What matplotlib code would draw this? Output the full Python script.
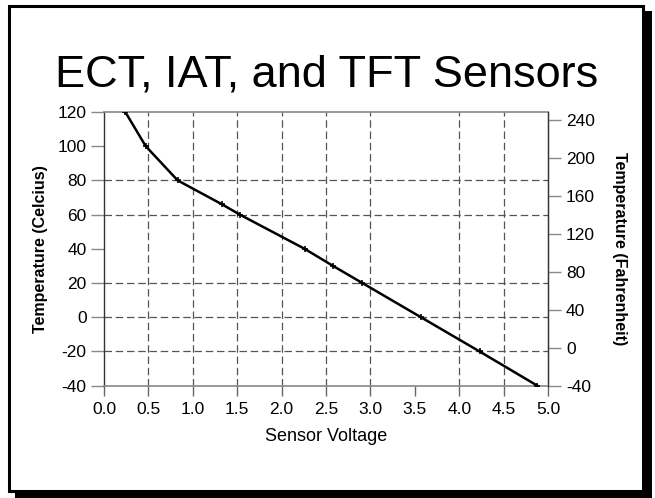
import numpy as np
import matplotlib
matplotlib.use("Agg")
import matplotlib.pyplot as plt
from matplotlib.patches import Rectangle

# sensor curve
voltage = [0.24, 0.47, 0.83, 1.33, 1.53, 2.26, 2.58, 2.91, 3.57, 4.23, 4.88]
temp_c = [120, 100, 80, 66, 60, 40, 30, 20, 0, -20, -40]

x_ticks = [0.0, 0.5, 1.0, 1.5, 2.0, 2.5, 3.0, 3.5, 4.0, 4.5, 5.0]
c_ticks = [-40, -20, 0, 20, 40, 60, 80, 100, 120]
f_ticks = [-40, 0, 40, 80, 120, 160, 200, 240]

# grid lines that show up in the reference
x_grid = [0.5, 1.0, 1.5, 2.0, 2.5, 3.0, 4.0, 4.5]
c_grid = [-20, 0, 20, 60, 80]

plt.rcParams['font.family'] = ['Liberation Sans', 'DejaVu Sans']
plt.rcParams['axes.unicode_minus'] = False

W, H = 655, 498
fig = plt.figure(figsize=(W / 100, H / 100), dpi=100)

def fx(px):
	return px / W

def fy(py):
	return 1 - py / H

# frame with drop shadow
shadow = Rectangle((fx(15), fy(499)), fx(652) - fx(15), fy(11) - fy(499),
		transform=fig.transFigure, facecolor="black", edgecolor="none", zorder=-3)
frame = Rectangle((fx(9), fy(491)), fx(643) - fx(9), fy(6) - fy(491),
		transform=fig.transFigure, facecolor="white", edgecolor="black",
		linewidth=2.2, zorder=-2)
fig.patches.extend([shadow, frame])

ax = fig.add_axes([fx(104), fy(385.7), fx(548) - fx(104), fy(112) - fy(385.7)])
ax.set_facecolor("none")

ax.plot(voltage, temp_c, color="black", linewidth=1.8, marker="+",
	markersize=4, markeredgewidth=1.2, zorder=5)

ax.set_xlim(0, 5)
ax.set_ylim(-40, 120)
ax.set_xticks(x_ticks)
ax.set_xticklabels(["%.1f" % v for v in x_ticks])
ax.set_yticks(c_ticks)

for v in x_grid:
	ax.axvline(v, color="#555555", linestyle=(0, (6, 3)), linewidth=0.9, zorder=2)
for c in c_grid:
	ax.axhline(c, color="#555555", linestyle=(0, (6, 3)), linewidth=0.9, zorder=2)

for side in ["top", "bottom"]:
	ax.spines[side].set_color("#888888")
	ax.spines[side].set_linewidth(1.2)
for side in ["left", "right"]:
	ax.spines[side].set_color("#333333")
	ax.spines[side].set_linewidth(1.0)

ax.tick_params(axis="y", length=9.5, width=1, color="#888888", labelsize=12.5, pad=3)
ax.tick_params(axis="x", length=7, width=1, color="#666666", labelsize=12.5, pad=5)

ax.set_xlabel("Sensor Voltage", fontsize=13, labelpad=8)
ax.set_ylabel("Temperature (Celcius)", fontsize=11.5, fontweight="bold", labelpad=7)

ax2 = ax.twinx()
ax2.set_ylim(-40 * 9 / 5 + 32, 120 * 9 / 5 + 32)
ax2.set_yticks(f_ticks)
for side in ["top", "bottom", "left"]:
	ax2.spines[side].set_visible(False)
ax2.spines["right"].set_color("#333333")
ax2.tick_params(axis="y", length=9, width=1, color="#888888", labelsize=12.5, pad=4)
ax2.set_ylabel("Temperature (Fahrenheit)", fontsize=11.5, fontweight="bold",
	rotation=-90, labelpad=23)

fig.text(fx(327), fy(75), "ECT, IAT, and TFT Sensors", fontsize=32.5,
	ha="center", va="center")

fig.savefig("out.png", dpi=100)
